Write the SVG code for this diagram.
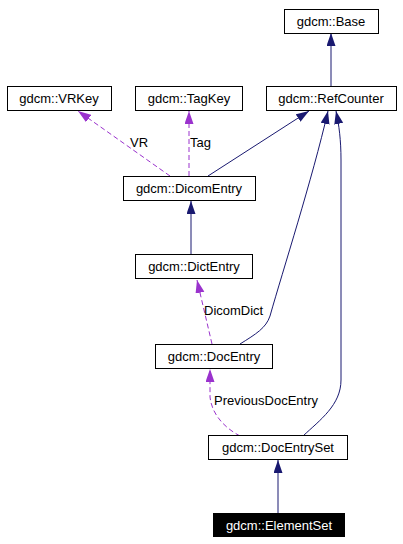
<svg xmlns="http://www.w3.org/2000/svg" width="403" height="544" viewBox="0 0 403 544">
<style>
.n rect{fill:#fff;stroke:#000;stroke-width:1}
.n text{font-family:"Liberation Sans",Arial,sans-serif;font-size:13px;text-anchor:middle;fill:#000}
.n.hl rect{fill:#000}
.n.hl text{fill:#fff}
.e{fill:none;stroke-width:1}
.inh{stroke:#191970;marker-end:url(#ai)}
.use{stroke:#9a32cd;stroke-dasharray:5,3;marker-end:url(#au)}
.lbl{font-family:"Liberation Sans",Arial,sans-serif;font-size:13px;fill:#000}
</style>
<defs>
<marker id="ai" markerUnits="userSpaceOnUse" markerWidth="14" markerHeight="10" refX="13" refY="4.5" orient="auto"><path d="M0,0 L13,4.5 L0,9 z" fill="#191970"/></marker>
<marker id="au" markerUnits="userSpaceOnUse" markerWidth="14" markerHeight="10" refX="13" refY="4.5" orient="auto"><path d="M0,0 L13,4.5 L0,9 z" fill="#9a32cd"/></marker>
</defs>
<g id="edges">
<path class="e inh" d="M331,86 L331,33"/>
<path class="e use" d="M170,176 L78,111"/>
<path class="e use" d="M189,176 L189,111"/>
<path class="e inh" d="M208,176 L309,111"/>
<path class="e inh" d="M191,254 L191,201"/>
<path class="e use" d="M212,344 L197,280"/>
<path class="e inh" d="M240,344 C256,334 266,328 270,316 C283,270 312,180 328,111"/>
<path class="e use" d="M240,436 C225,428 212,415 210,397 L210,369"/>
<path class="e inh" d="M303,436 C320,420 341,405 341,380 L341,160 C341,140 339,125 336,111"/>
<path class="e inh" d="M278,513 L278,460"/>
<text class="lbl" x="130" y="147">VR</text>
<text class="lbl" x="190" y="147">Tag</text>
<text class="lbl" x="204" y="315">DicomDict</text>
<text class="lbl" x="214" y="405">PreviousDocEntry</text>
</g>
<g id="Base" class="n"><rect x="284.5" y="9.5" width="94" height="24"/><text x="331" y="26">gdcm::Base</text></g>
<g id="VRKey" class="n"><rect x="7.5" y="86.5" width="104" height="24"/><text x="59" y="103">gdcm::VRKey</text></g>
<g id="TagKey" class="n"><rect x="135.5" y="86.5" width="107" height="24"/><text x="189" y="103">gdcm::TagKey</text></g>
<g id="RefCounter" class="n"><rect x="266.5" y="86.5" width="130" height="24"/><text x="331" y="103">gdcm::RefCounter</text></g>
<g id="DicomEntry" class="n"><rect x="123.5" y="176.5" width="132" height="24"/><text x="189" y="193">gdcm::DicomEntry</text></g>
<g id="DictEntry" class="n"><rect x="135.5" y="254.5" width="117" height="24"/><text x="194" y="271">gdcm::DictEntry</text></g>
<g id="DocEntry" class="n"><rect x="155.5" y="344.5" width="117" height="24"/><text x="214" y="361">gdcm::DocEntry</text></g>
<g id="DocEntrySet" class="n"><rect x="208.5" y="435.5" width="139" height="24"/><text x="278" y="452">gdcm::DocEntrySet</text></g>
<g id="ElementSet" class="n hl"><rect x="213.5" y="513.5" width="131" height="23"/><text x="279" y="530">gdcm::ElementSet</text></g>
</svg>
